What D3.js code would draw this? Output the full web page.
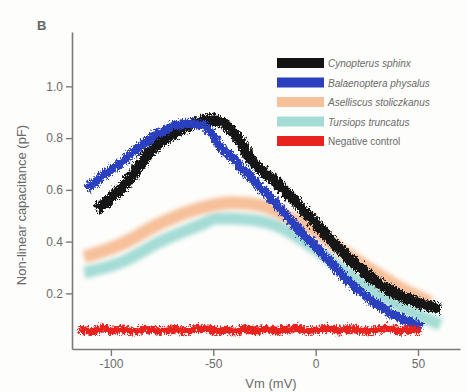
<!DOCTYPE html>
<html>
<head>
<meta charset="utf-8">
<script src="https://cdn.jsdelivr.net/npm/d3@7"></script>
<style>
  html, body { margin: 0; padding: 0; background: #fdfdfb; }
  svg { display: block; font-family: "Liberation Sans", Arial, sans-serif; }
</style>
</head>
<body>
<svg id="chart" width="467" height="392"></svg>
<script>
// Series: membrane voltage (mV) and non-linear capacitance (pF)
const seriesNames = ["Cynopterus sphinx", "Balaenoptera physalus", "Aselliscus stoliczkanus", "Tursiops truncatus", "Negative control"];

const sphinxVm  = [-108, -95, -81, -68, -58, -53, -47, -40, -32, -20, -7, 0, 7, 17, 29, 41.5, 51, 60];
const sphinxCap = [0.53, 0.62, 0.76, 0.835, 0.87, 0.88, 0.87, 0.82, 0.72, 0.635, 0.53, 0.47, 0.41, 0.33, 0.25, 0.195, 0.167, 0.148];

const physalusVm  = [-113, -105, -95, -81, -72, -64, -57, -52, -48, -40, -32, -20, -10, 0, 17, 30, 45, 51];
const physalusCap = [0.61, 0.66, 0.72, 0.81, 0.85, 0.865, 0.86, 0.83, 0.78, 0.72, 0.65, 0.55, 0.46, 0.38, 0.24, 0.16, 0.097, 0.078];

const stoliczkanusVm  = [-113, -95, -76, -56, -40, -27, -12, 0, 12, 27, 41.5, 56];
const stoliczkanusCap = [0.34, 0.39, 0.47, 0.53, 0.55, 0.54, 0.49, 0.44, 0.37, 0.29, 0.22, 0.165];

const truncatusVm  = [-113, -95, -76, -56, -48, -32, -17, 0, 17, 32, 46, 61];
const truncatusCap = [0.28, 0.32, 0.40, 0.466, 0.49, 0.485, 0.455, 0.37, 0.27, 0.19, 0.13, 0.08];

const controlVm  = [-117, -110, -105, -100, -95, -90, -85, -80, -75, -70, -65, -60, -55, -50, -45, -40, -35, -30, -25, -20, -15, -10, -5, 0, 5, 10, 15, 20, 25, 30, 35, 40, 45, 50];
const controlCap = [0.07, 0.062, 0.072, 0.064, 0.068, 0.06, 0.071, 0.066, 0.063, 0.07, 0.061, 0.069, 0.074, 0.062, 0.067, 0.06, 0.072, 0.065, 0.07, 0.063, 0.068, 0.073, 0.062, 0.066, 0.071, 0.064, 0.07, 0.066, 0.061, 0.069, 0.072, 0.063, 0.067, 0.062];

const xTicks = [-100, -50, 0, 50];
const yTicks = [0.2, 0.4, 0.6, 0.8, 1.0];

const svg = d3.select("#chart");

// soft look of the scanned traces
const defs = svg.append("defs");
const rough = defs.append("filter").attr("id", "rough")
  .attr("filterUnits", "userSpaceOnUse")
  .attr("x", 0).attr("y", 0).attr("width", 467).attr("height", 392);
rough.append("feTurbulence").attr("type", "turbulence")
  .attr("baseFrequency", "0.45 0.25").attr("numOctaves", 2).attr("seed", 3).attr("result", "n");
rough.append("feDisplacementMap").attr("in", "SourceGraphic").attr("in2", "n")
  .attr("scale", 8).attr("xChannelSelector", "R").attr("yChannelSelector", "G");
defs.append("filter").attr("id", "soft")
  .attr("filterUnits", "userSpaceOnUse")
  .attr("x", 0).attr("y", 0).attr("width", 467).attr("height", 392)
  .append("feGaussianBlur").attr("stdDeviation", 2);

const x = d3.scaleLinear().domain([-119, 70.5]).range([72, 460]);
const y = d3.scaleLinear().domain([-0.015, 1.21]).range([349, 32]);

svg.append("text")
  .attr("x", 37).attr("y", 30)
  .attr("font-size", 13).attr("font-weight", "bold").attr("fill", "#666")
  .text("B");

const line = d3.line()
  .x(d => x(d[0]))
  .y(d => y(d[1]))
  .curve(d3.curveMonotoneX);

const traces = [
  { vm: truncatusVm, cap: truncatusCap, color: "#a4dcd5", width: 12, filter: "soft" },
  { vm: stoliczkanusVm, cap: stoliczkanusCap, color: "#f6c09a", width: 13, filter: "soft" },
  { vm: sphinxVm, cap: sphinxCap, color: "#141414", width: 11, filter: "rough" },
  { vm: physalusVm, cap: physalusCap, color: "#2b3fbf", width: 9, filter: "rough" },
  { vm: controlVm, cap: controlCap, color: "#e8231f", width: 8, filter: "rough" }
];

svg.append("g").selectAll("path")
  .data(traces)
  .enter()
  .append("path")
  .attr("d", t => line(d3.zip(t.vm, t.cap)))
  .attr("fill", "none")
  .attr("stroke", t => t.color)
  .attr("stroke-width", t => t.width)
  .attr("stroke-linejoin", "round")
  .attr("filter", t => `url(#${t.filter})`);

// Axes
const yAxis = svg.append("g")
  .attr("transform", `translate(${x.range()[0]},0)`)
  .call(d3.axisLeft(y).tickValues(yTicks).tickFormat(d3.format(".1f")).tickSize(6).tickPadding(3).tickSizeOuter(0));

const xAxis = svg.append("g")
  .attr("transform", `translate(0,${y.range()[0]})`)
  .call(d3.axisBottom(x).tickValues(xTicks).tickFormat(d3.format("d")).tickSize(7).tickPadding(3).tickSizeOuter(0));

[xAxis, yAxis].forEach(a => {
  a.select(".domain").attr("stroke", "#7a7a7a").attr("stroke-width", 1.6);
  a.selectAll(".tick line").attr("stroke", "#7a7a7a").attr("stroke-width", 1.4);
  a.selectAll(".tick text").attr("fill", "#6a6a6a").attr("font-size", 12)
    .attr("font-family", "Liberation Sans, Arial, sans-serif");
});
xAxis.selectAll(".tick text").text(d => d < 0 ? "-" + Math.abs(d) : d);

svg.append("text")
  .attr("x", 271).attr("y", 388)
  .attr("text-anchor", "middle")
  .attr("font-size", 13).attr("fill", "#6a6a6a")
  .text("Vm (mV)");

svg.append("text")
  .attr("transform", "translate(26,205) rotate(-90)")
  .attr("text-anchor", "middle")
  .attr("font-size", 13).attr("fill", "#6a6a6a")
  .text("Non-linear capacitance (pF)");

// Legend
const legendColors = ["#141414", "#2b3fbf", "#f6c09a", "#a4dcd5", "#e8231f"];
const legend = svg.append("g").attr("transform", "translate(277,63)");
const rows = legend.selectAll("g")
  .data(seriesNames)
  .enter()
  .append("g")
  .attr("transform", (d, i) => `translate(0,${i * 19.5})`);

rows.append("rect")
  .attr("x", 0).attr("y", -5)
  .attr("width", 47).attr("height", 10)
  .attr("fill", (d, i) => legendColors[i]);

rows.append("text")
  .attr("x", 51).attr("y", 4)
  .attr("font-size", 10)
  .attr("font-style", (d, i) => i < 4 ? "italic" : "normal")
  .attr("fill", "#6a6a6a")
  .text(d => d);
</script>
</body>
</html>
